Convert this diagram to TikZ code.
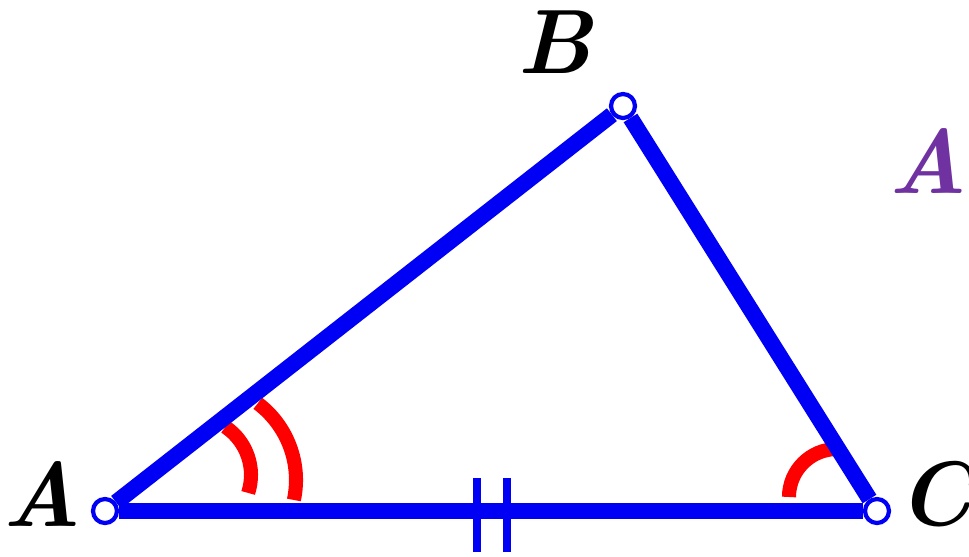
\documentclass[tikz,border=0pt]{standalone}
\usepackage{amsmath}
\usetikzlibrary{calc}

\definecolor{sidecol}{RGB}{0,0,245}
\definecolor{anglecol}{RGB}{255,0,0}
\definecolor{titlecol}{RGB}{112,50,160}

\begin{document}
\begin{tikzpicture}[scale=1]
	\tikzset{vertex/.style = {circle,draw=sidecol,fill=white,line width=1.2pt,inner sep=0pt,minimum size=2.4mm}}
	\tikzset{side/.style={draw=sidecol,line width=4.6pt}}
	\tikzset{anglemark/.style={draw=anglecol,line width=4pt}}
	\tikzset{tick/.style={draw=sidecol,line width=2.2pt}}
	\tikzset{lbl/.style={font=\fontsize{26}{30}\selectfont\bfseries\itshape}}
	\useasboundingbox (0,0) rectangle (9.69,5.56);

	% vertices
	\node[vertex] (a) at (1.05,0.45) {};
	\node[vertex] (b) at (6.23,4.50) {};
	\node[vertex] (c) at (8.77,0.45) {};

	% labels
	\node[lbl] (la) at (0.42,0.62) {A};
	\node[lbl] (lb) at (5.55,5.14) {B};
	\node[lbl] (lc) at (9.35,0.62) {C};
	\node[lbl,text=titlecol,anchor=west,inner sep=0pt] (lt) at (8.88,3.95) {A};

	% angle marks
	\draw[anglemark] ($(a)+(0.88,0.36)+(-18:0.58)$) arc[start angle=-18,end angle=56,radius=0.58];
	\draw[anglemark] ($(a)+(0.95,0.31)+(-12:0.96)$) arc[start angle=-12,end angle=53,radius=0.96];
	\draw[anglemark] ($(c)+(-0.40,0.14)+(180:0.48)$) arc[start angle=180,end angle=90,radius=0.48];

	% equal side ticks
	\coordinate (t1) at (4.77,0.04);
	\coordinate (t2) at (5.07,0.04);
	\draw[tick] (t1) -- ++(0,0.74);
	\draw[tick] (t2) -- ++(0,0.74);

	% edges
	\draw[side] (a) -- (b);
	\draw[side] (b) -- (c);
	\draw[side] (c) -- (a);
	\end{tikzpicture}
\end{document}
